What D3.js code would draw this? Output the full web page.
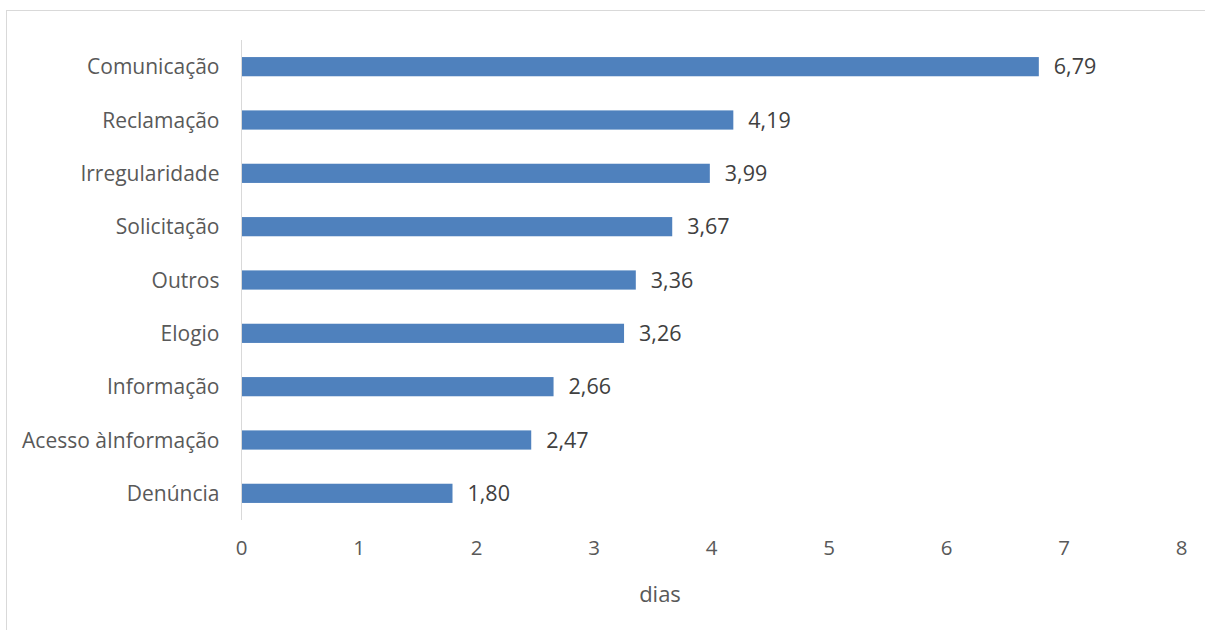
<!DOCTYPE html>
<html>
<head>
<meta charset="utf-8">
<script src="https://cdn.jsdelivr.net/npm/d3@7/dist/d3.min.js"></script>
<style>
  html, body { margin: 0; padding: 0; background: #fff; }
  svg { display: block; }
  text { font-family: "Open Sans", sans-serif; }
</style>
</head>
<body>
<svg id="chart" width="1205" height="630"></svg>
<script>
// Tempo médio de resposta por tipo de manifestação (dias)
const categories = ["Comunicação", "Reclamação", "Irregularidade", "Solicitação", "Outros", "Elogio", "Informação", "Acesso àInformação", "Denúncia"];
const values = [6.79, 4.19, 3.99, 3.67, 3.36, 3.26, 2.66, 2.47, 1.80];
const xTicks = [0, 1, 2, 3, 4, 5, 6, 7, 8];
const axisTitle = "dias";

const svg = d3.select("#chart");
const W = 1205, H = 630;
const plotLeft = 241, plotRight = 1181, plotTop = 40, plotBottom = 520;
const FONT = "'Open Sans', sans-serif";

// frame around the chart area
svg.append("rect")
  .attr("x", 6.5).attr("y", 10.5)
  .attr("width", W + 10).attr("height", H + 10)
  .attr("fill", "none").attr("stroke", "#d9d9d9").attr("stroke-width", 1);

const x = d3.scaleLinear().domain([0, 8]).range([plotLeft, plotRight]);
const y = d3.scaleBand().domain(categories).range([plotTop, plotBottom]).paddingInner(0.64).paddingOuter(0.32);

const fmt = v => d3.format(".2f")(v).replace(".", ",");

// bars
svg.append("g").selectAll("rect").data(categories).join("rect")
  .attr("x", x(0))
  .attr("y", (d) => y(d))
  .attr("width", (d, i) => x(values[i]) - x(0))
  .attr("height", y.bandwidth())
  .attr("fill", "#4f81bd");

// value labels
svg.append("g").selectAll("text").data(categories).join("text")
  .attr("x", (d, i) => x(values[i]) + 15)
  .attr("y", d => y(d) + y.bandwidth() / 2)
  .attr("dy", "0.36em")
  .attr("font-size", 21.5)
  .attr("fill", "#404040")
  .text((d, i) => fmt(values[i]));

// category axis
const yAxis = svg.append("g").attr("transform", `translate(${plotLeft + 0.5},0)`)
  .call(d3.axisLeft(y).tickSize(0).tickPadding(22));
yAxis.select(".domain").attr("stroke", "#d9d9d9").attr("d", `M0,${plotTop}V${plotBottom}`);
yAxis.selectAll("text").attr("font-size", 21).attr("fill", "#595959")
  .attr("font-family", FONT).attr("dy", "0.36em");

// value axis (labels only)
const xAxis = svg.append("g").attr("transform", `translate(0,${plotBottom})`)
  .call(d3.axisBottom(x).tickValues(xTicks).tickSize(0).tickPadding(20).tickFormat(d3.format("d")));
xAxis.select(".domain").remove();
xAxis.selectAll("text").attr("font-size", 20.5).attr("fill", "#595959")
  .attr("font-family", FONT);

// axis title
svg.append("text")
  .attr("x", 660)
  .attr("y", 594)
  .attr("dy", "0.36em")
  .attr("text-anchor", "middle")
  .attr("font-size", 22)
  .attr("fill", "#595959")
  .text(axisTitle);
</script>
</body>
</html>
